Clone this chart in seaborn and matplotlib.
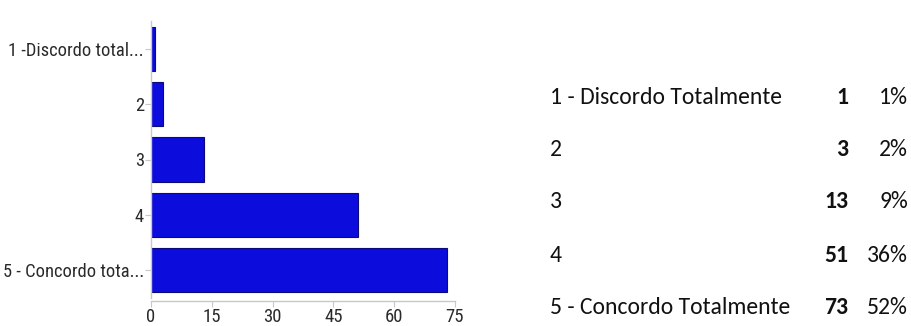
import matplotlib
matplotlib.use("Agg")
import matplotlib.pyplot as plt
import seaborn as sns
import pandas as pd

# survey answers
short_labels = ["1 -Discordo total...", "2", "3", "4", "5 - Concordo tota..."]
full_labels = ["1 - Discordo Totalmente", "2", "3", "4", "5 - Concordo Totalmente"]
counts = [1, 3, 13, 51, 73]
percents = ["1%", "2%", "9%", "36%", "52%"]
x_ticks = [0, 15, 30, 45, 60, 75]

df = pd.DataFrame({"label": short_labels, "count": counts})

sns.set_style("white")
W, H = 911, 326
fig = plt.figure(figsize=(W / 100, H / 100), dpi=100)

# bar chart on the left
ax = fig.add_axes([151 / W, 1 - 298 / H, (455 - 151) / W, (298 - 21) / H])
sns.barplot(data=df, x="count", y="label", orient="h", color="#0c0cdc",
            saturation=1, width=0.8, edgecolor="#0a0a7a", linewidth=0.8, ax=ax)
ax.set_xlim(0, 75)
ax.set_ylim(4.5, -0.5)
ax.set_xticks(x_ticks)
ax.set_xlabel("")
ax.set_ylabel("")
for s in ["top", "right"]:
    ax.spines[s].set_visible(False)
for s in ["left", "bottom"]:
    ax.spines[s].set_color("#c8c8c8")
    ax.spines[s].set_linewidth(1)
ax.spines["bottom"].set_position(("outward", 2))
ax.tick_params(axis="y", length=4, color="#c8c8c8", pad=1, left=True)
ax.tick_params(axis="x", length=4, color="#c8c8c8", pad=1, bottom=True)
narrow = "Roboto Condensed"
for t in ax.get_yticklabels():
    t.set_fontfamily(narrow)
    t.set_fontsize(13.3)
    t.set_color("#2a2a2a")
for t in ax.get_xticklabels():
    t.set_fontfamily(narrow)
    t.set_fontsize(13.5)
    t.set_color("#2a2a2a")

# summary table on the right
row_y = [97, 149, 202, 255, 308]
font = "Carlito"
for lab, c, p, yy in zip(full_labels, counts, percents, row_y):
    yf = 1 - yy / H
    fig.text(550 / W, yf, lab, ha="left", va="center", fontsize=17,
             family=font, color="#111111")
    fig.text(848 / W, yf, str(c), ha="right", va="center", fontsize=17,
             family=font, weight="bold", color="#111111")
    fig.text(908 / W, yf, p, ha="right", va="center", fontsize=17,
             family=font, color="#111111")

fig.savefig("out.png", dpi=100)
